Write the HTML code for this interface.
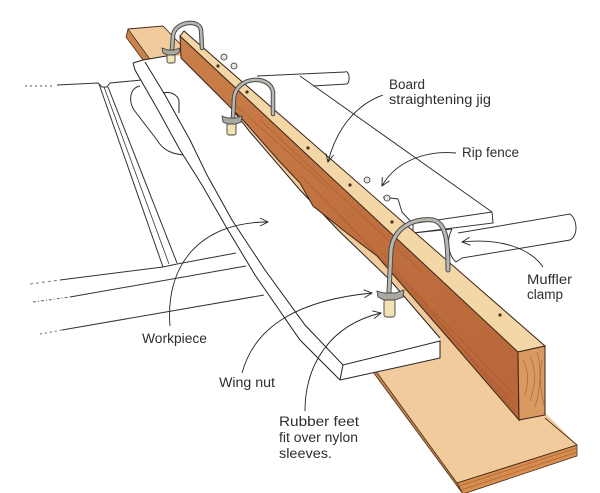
<!DOCTYPE html>
<html>
<head>
<meta charset="utf-8">
<style>
html,body{margin:0;padding:0;background:#fff;}
svg{display:block;}
text{font-family:"Liberation Sans",Arial,sans-serif;font-size:13.5px;fill:#2e2e2e;}
</style>
</head>
<body>
<svg width="600" height="493" viewBox="0 0 600 493" xmlns="http://www.w3.org/2000/svg">
<defs>
<linearGradient id="side" x1="0" y1="0" x2="1" y2="1">
<stop offset="0" stop-color="#c97f4a"/>
<stop offset="0.5" stop-color="#c0703f"/>
<stop offset="1" stop-color="#b8663a"/>
</linearGradient>
</defs>
<rect width="600" height="493" fill="#fff"/>

<!-- TABLE LINES -->
<g fill="none" stroke="#333" stroke-width="1">
<path d="M25,86 L55,86" stroke-dasharray="2 3" stroke="#555"/>
<path d="M57,85 L98,83 L102,87 L107,87 L110,83 L142,80"/>
<path d="M99,84 L163,267"/>
<path d="M104,87 L169,264" stroke-width="0.8"/>
<path d="M108,87 L177,263"/>
<path d="M163,267 L177,264"/>
<path d="M30,284 L60,280" stroke-dasharray="3 3" stroke="#777"/>
<path d="M60,280 L163,267 M177,264 L236,253"/>
<path d="M33,302 L70,297" stroke-dasharray="3 2 1 2" stroke="#666"/>
<path d="M70,297 L246,266"/>
<path d="M40,334 L62,330" stroke-dasharray="2 3" stroke="#666"/>
<path d="M62,330 L264,295"/>
<path d="M140,86 C130,88 128,100 134,110 L157,140 C163,150 172,155 188,155"/>
</g>

<!-- FENCE AND PIPES -->
<g fill="none" stroke="#333" stroke-width="1">
<path d="M257,76 L345,72 A3,6 0 0 1 347,84 L313,86" fill="#fff"/>
<path d="M300,76 L492,212 L493,223 L413,233"/>
<path d="M410,224 L492,212"/>
<path d="M383,197 L398,199 L402,212 L413,224 L413,233"/>
<path d="M458,233 L570,214 C578,220 578,236 570,240 L462,258" fill="#fff"/>
<path d="M452,229 C446,240 448,255 456,262 L462,258"/>
<path d="M413,233 L452,229"/>
</g>

<!-- PLYWOOD BASE -->
<polygon points="128,29 163,26 577,445 457,483" fill="#f1cb9c"/>
<polygon points="128,29 457,483 463,494 126,37" fill="#c9834b" stroke="#4a2e1c" stroke-width="0.8"/>
<polygon points="457,483 577,445 577,456 463,494" fill="#d68d50" stroke="#4a2e1c" stroke-width="0.8"/>
<path d="M459,486 L577,448 M461,490 L577,452" stroke="#b0622f" stroke-width="0.7" fill="none"/>
<path d="M128,29 L163,26 L182,46 M457,483 L577,445" stroke="#4a2e1c" stroke-width="0.9" fill="none"/>
<path d="M545,418 L577,445" stroke="#4a2e1c" stroke-width="0.9" fill="none"/>

<!-- WORKPIECE -->
<polygon points="133,63 143,60 170,56 190,56 250,132 300,190 340,232 390,280 440,338 440,358 340,380 300,340 255,275 225,225 202,185 180,150 158,110 135,70" fill="#fff"/>
<g fill="none" stroke="#222" stroke-width="1">
<path d="M133,63 L143,60 L172,55"/>
<path d="M133,63 L135,70 L158,110 L180,150 L202,185 L225,225 L255,275 L300,340 L340,380"/>
<path d="M145,62 L165,95 L190,140 L207,175 L232,220 L265,270 L305,325 L343,365 L440,341 L440,358 L340,380"/>
<path d="M343,365 L340,380"/>
<path d="M190,56 L250,132 L300,190 L340,232 L390,280 L440,338"/>
<path d="M163,93 C172,91 180,96 179,104 L179,113"/>
</g>

<!-- JIG -->
<polygon points="180,36 518,351 519,420 450,340 377,256 343,230 313,206 300,183 280,162 243,120 181,58" fill="url(#side)" stroke="#3a2418" stroke-width="1"/>
<g stroke="#9a4c26" stroke-width="0.8" opacity="0.45" fill="none">
<path d="M300,175 L515,395"/>
<path d="M340,215 L515,405"/>
<path d="M380,250 L515,412"/>
<path d="M230,100 L330,190"/>
<path d="M260,120 L420,270"/>
</g>
<polygon points="180,36 184,31 545,346 518,352" fill="#f3d7a6" stroke="#3a2418" stroke-width="1"/>
<polygon points="518,352 545,346 545,415 519,420" fill="#d99a62" stroke="#3a2418" stroke-width="1"/>
<g stroke="#a0562a" stroke-width="0.7" fill="none" opacity="0.8">
<path d="M523,360 q8,15 2,35"/>
<path d="M530,356 q9,20 0,45"/>
<path d="M537,352 q7,25 -2,55"/>
<path d="M542,360 q-4,20 2,45"/>
</g>
<g fill="#4a3020">
<circle cx="218" cy="66" r="1.6"/>
<circle cx="247" cy="92" r="1.6"/>
<circle cx="308" cy="148" r="1.6"/>
<circle cx="350" cy="185" r="1.6"/>
<circle cx="392" cy="222" r="1.6"/>
<circle cx="500" cy="315" r="1.6"/>
</g>
<g fill="#e8e6de" stroke="#333" stroke-width="0.8">
<circle cx="224" cy="57" r="3"/>
<circle cx="234" cy="66" r="3"/>
<circle cx="367" cy="180" r="3"/>
<circle cx="387" cy="198" r="3"/>
</g>

<!-- U-BOLTS -->
<g fill="none" stroke-linecap="round">
<path d="M172,50 L173,36 C174,22 199,18 201,30 L202,48" stroke="#4a4a4a" stroke-width="4.5"/>
<path d="M172,50 L173,36 C174,22 199,18 201,30 L202,48" stroke="#b8b8b0" stroke-width="2.5"/>
<path d="M233,118 L234,98 C236,76 270,74 273,92 L273,114" stroke="#4a4a4a" stroke-width="4.5"/>
<path d="M233,118 L234,98 C236,76 270,74 273,92 L273,114" stroke="#b8b8b0" stroke-width="2.5"/>
<path d="M389,292 L391,250 C394,226 415,218 433,220 C446,223 448,240 448,270" stroke="#4a4a4a" stroke-width="5"/>
<path d="M389,292 L391,250 C394,226 415,218 433,220 C446,223 448,240 448,270" stroke="#b8b8b0" stroke-width="3"/>
</g>
<!-- wing nuts and feet -->
<g stroke="#444" stroke-width="0.9">
<rect x="167" y="54" width="8" height="9" rx="2" fill="#f2e2b4"/>
<path d="M162,48 L168,50 L174,50 L180,48 L179,53 L174,55 L168,55 L163,53 Z" fill="#a9a9a2"/>
<rect x="227" y="123" width="9" height="12" rx="2" fill="#f2e2b4"/>
<path d="M222,116 L228,118 L236,118 L242,116 L241,122 L236,124 L228,124 L223,122 Z" fill="#a9a9a2"/>
<rect x="384" y="299" width="11" height="18" rx="2.5" fill="#f2e2b4"/>
<path d="M377,291 L384,293 L395,293 L404,290 L403,297 L395,300 L384,300 L378,297 Z" fill="#a9a9a2"/>
</g>

<!-- LEADERS -->
<g fill="none" stroke="#222" stroke-width="0.9">
<path d="M383,95 C355,105 336,130 328,162"/>
<polyline points="325.8,153.4 328,162 333.6,155"/>
<path d="M456,153 C425,150 395,162 382,186"/>
<polyline points="382.3,177.1 382,186 389.3,180.9"/>
<path d="M543,267 C530,248 500,238 462,242"/>
<polyline points="470.4,245.2 462,242 469.6,237.2"/>
<path d="M170,326 C165,265 200,222 268,222"/>
<polyline points="260,218 268,222 260,226"/>
<path d="M242,373 C255,325 300,300 372,293"/>
<polyline points="364.4,297.8 372,293 363.6,289.8"/>
<path d="M305,411 C305,365 330,325 381,313"/>
<polyline points="374.1,318.7 381,313 372.3,310.9"/>
</g>

<!-- LABELS -->
<text x="389" y="89" textLength="36" lengthAdjust="spacingAndGlyphs">Board</text>
<text x="389" y="104" textLength="102" lengthAdjust="spacingAndGlyphs">straightening jig</text>
<text x="462" y="157" textLength="57" lengthAdjust="spacingAndGlyphs">Rip fence</text>
<text x="527" y="284" textLength="45" lengthAdjust="spacingAndGlyphs">Muffler</text>
<text x="527" y="299" textLength="36" lengthAdjust="spacingAndGlyphs">clamp</text>
<text x="142" y="343" textLength="65" lengthAdjust="spacingAndGlyphs">Workpiece</text>
<text x="219" y="387" textLength="56" lengthAdjust="spacingAndGlyphs">Wing nut</text>
<text x="279" y="426" textLength="80" lengthAdjust="spacingAndGlyphs">Rubber feet</text>
<text x="279" y="442" textLength="79" lengthAdjust="spacingAndGlyphs">fit over nylon</text>
<text x="279" y="458" textLength="53" lengthAdjust="spacingAndGlyphs">sleeves.</text>
</svg>
</body>
</html>
